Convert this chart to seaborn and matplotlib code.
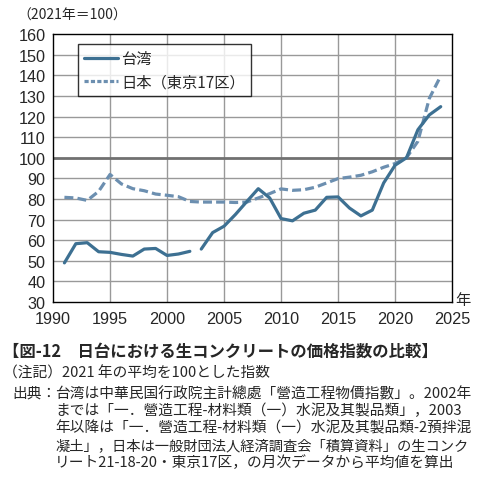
import matplotlib
matplotlib.use("Agg")
import matplotlib.pyplot as plt
from matplotlib.lines import Line2D
import seaborn as sns
import pandas as pd

# Taiwan index (2021 = 100); the series breaks between 2002 and 2003
taiwan_years = list(range(1991, 2025))
taiwan_values = [49.0, 58.3, 58.8, 54.4, 54.1, 53.1, 52.3, 55.7, 56.0, 52.6,
                 53.3, 54.6, 55.7, 63.7, 66.8, 72.5, 78.8, 85.0, 80.5, 70.5,
                 69.4, 73.1, 74.6, 80.8, 81.0, 75.6, 71.8, 74.6, 87.8, 96.4,
                 100.0, 113.6, 120.8, 124.8]
taiwan_segment = [0 if y <= 2002 else 1 for y in taiwan_years]

# Japan (Tokyo 17 districts)
japan_years = list(range(1991, 2025))
japan_values = [80.8, 80.5, 79.3, 83.7, 91.9, 87.3, 85.0, 84.0, 82.4, 81.8,
                81.1, 78.8, 78.5, 78.5, 78.5, 78.3, 78.5, 80.5, 82.6, 84.9,
                84.2, 84.5, 85.7, 87.8, 89.9, 90.6, 91.5, 93.2, 95.4, 97.2,
                100.0, 108.0, 128.8, 139.7]

x_ticks = list(range(1990, 2026, 5))
y_ticks = list(range(30, 161, 10))

taiwan_color = "#3d7092"
japan_color = "#6c8fb0"

sns.set_style("white")
plt.rcParams['font.family'] = ['Noto Sans CJK JP', 'DejaVu Sans']

tw = pd.DataFrame({'year': taiwan_years, 'value': taiwan_values, 'seg': taiwan_segment})
jp = pd.DataFrame({'year': japan_years, 'value': japan_values})

fig = plt.figure(figsize=(4.82, 4.81), dpi=100)
ax = fig.add_axes([0.110, 0.370, 0.828, 0.557])

# grid
for xv in x_ticks[1:-1]:
    ax.axvline(xv, color="#999999", lw=1.0, zorder=0)
for yv in y_ticks[1:-1]:
    if yv == 100:
        ax.axhline(yv, color="#707070", lw=2.0, zorder=1)
    else:
        ax.axhline(yv, color="#999999", lw=1.0, zorder=0)

sns.lineplot(data=jp, x='year', y='value', ax=ax, color=japan_color,
             lw=2.3, linestyle=(0, (2.8, 1.3)), zorder=3)
sns.lineplot(data=tw, x='year', y='value', units='seg', estimator=None, ax=ax,
             color=taiwan_color, lw=2.3, zorder=4)

ax.set_xlim(1990, 2025)
ax.set_ylim(30, 160)
ax.set_xticks(x_ticks)
ax.set_yticks(y_ticks)
ax.set_xlabel('')
ax.set_ylabel('')
tick_font = {'family': 'Liberation Sans', 'size': 11.7}
ax.set_xticklabels([str(v) for v in x_ticks], fontdict=tick_font)
ax.set_yticklabels([str(v) for v in y_ticks], fontdict=tick_font)
ax.tick_params(axis='x', length=0, pad=6.5)
ax.tick_params(axis='y', length=0, pad=5.5)
for s in ax.spines.values():
    s.set_color('black')
    s.set_linewidth(1.0)

handles = [Line2D([], [], color=taiwan_color, lw=2.3),
           Line2D([], [], color=japan_color, lw=2.3, linestyle=(0, (1.3, 0.7)))]
leg = ax.legend(handles, ['台湾', '日本（東京17区）'], loc='upper left',
                bbox_to_anchor=(0.063, 0.963), frameon=True, fancybox=False,
                edgecolor='black', fontsize=11, handlelength=2.2,
                borderpad=0.4, labelspacing=0.4, handletextpad=0.2,
                borderaxespad=0)
leg.get_frame().set_linewidth(1.0)

fig.text(17 / 482, 1 - 16 / 481, '（2021年＝100）', fontsize=10, va='center', ha='left')
fig.text(463 / 482, 1 - 301 / 481, '年', fontsize=11, va='center', ha='center')

# caption block
fig.text(3 / 482, 1 - 352 / 481, '【図-12　日台における生コンクリートの価格指数の比較】',
         fontsize=11.8, fontweight='bold', va='center', ha='left')
fig.text(3 / 482, 1 - 373 / 481, '（注記）2021 年の平均を100とした指数',
         fontsize=10.6, va='center', ha='left')
fig.text(12 / 482, 1 - 394 / 481, '出典：', fontsize=10.6, va='center', ha='left')
notes = [
    '台湾は中華民国行政院主計總處「營造工程物價指數」。2002年',
    'までは「一．營造工程-材料類（一）水泥及其製品類」，2003',
    '年以降は「一．營造工程-材料類（一）水泥及其製品類-2預拌混',
    '凝土」，日本は一般財団法人経済調査会「積算資料」の生コンク',
    'リート21-18-20・東京17区，の月次データから平均値を算出',
]
note_y = [394, 411, 428, 446, 463]
for txt, yy in zip(notes, note_y):
    fig.text(55 / 482, 1 - yy / 481, txt, fontsize=10.6 if '凝土' not in txt else 10.3,
             va='center', ha='left')

fig.savefig('out.png', dpi=100)
